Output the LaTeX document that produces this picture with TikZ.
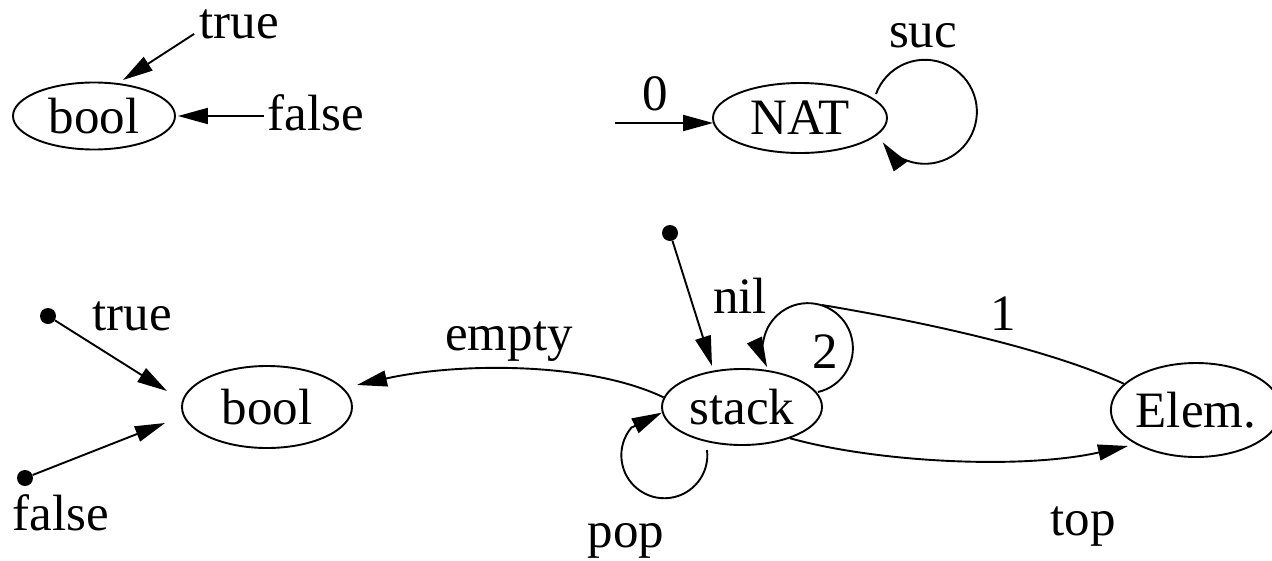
\documentclass[tikz,border=0pt]{standalone}
\usepackage{fontspec}
\setmainfont{Liberation Serif}
\usetikzlibrary{shapes.geometric,arrows.meta}
\begin{document}
\begin{tikzpicture}[x=1pt,y=1pt,
  every node/.style={font=\fontsize{51}{60}\selectfont},
  sort/.style={draw, ellipse, line width=1.9pt, inner sep=0pt},
  lbl/.style={inner sep=0pt, anchor=base},
  dot/.style={circle, fill=black, inner sep=0pt, minimum size=16pt},
  conn/.style={line width=1.9pt},
  arr/.style={line width=1.9pt, -{Triangle[length=30pt,width=16pt]}}]
\useasboundingbox (0,0) rectangle (1272,-560);
% top left
\node[sort, minimum width=162pt, minimum height=67pt] (boolA) at (94,-116) {bool};
\node[lbl] (trueA) at (239,-38) {true};
\node[lbl] (falseA) at (316,-130) {false};
\draw[arr] ([shift={(-5,-10)}]trueA.west) -- ([shift={(29,36)}]boolA.center);
\draw[arr] ([xshift=-4pt]falseA.west |- boolA.east) -- ([xshift=2pt]boolA.east);
% top right
\node[sort, minimum width=174pt, minimum height=70pt] (nat) at (800,-118) {NAT};
\node[lbl] (zero) at (655,-110) {0};
\node[lbl] (suc) at (923,-47) {suc};
\coordinate (zsrc) at (615,-123);
\draw[arr] (zsrc) -- ([xshift=1pt]zsrc -| nat.west);
\draw[arr] ([shift={(76,24)}]nat.center) arc[start angle=160, end angle=-144, radius=52];
% bottom
\node[dot] (tdot) at (48,-316) {};
\node[lbl] (trueB) at (132,-330) {true};
\node[dot] (fdot) at (25,-478) {};
\node[lbl] (falseB) at (61,-530) {false};
\node[sort, minimum width=170pt, minimum height=82pt] (boolB) at (267,-407) {bool};
\node[sort, minimum width=160pt, minimum height=76pt] (stack) at (742,-407) {stack};
\node[sort, minimum width=168pt, minimum height=94pt] (elem) at (1196,-410) {Elem.};
\node[dot] (ndot) at (670,-233) {};
\node[lbl] (empty) at (509,-350) {empty};
\node[lbl] (nil) at (740,-313) {nil};
\node[lbl] (two) at (825,-368) {2};
\node[lbl] (one) at (1003,-330) {1};
\node[lbl] (pop) at (626,-547) {pop};
\node[lbl] (top) at (1083,-535) {top};
\draw[arr] (tdot) -- ([shift={(-100,16)}]boolB.center);
\draw[arr] (fdot) -- ([shift={(-102,-16)}]boolB.center);
\draw[arr] (ndot) -- ([shift={(-30,41)}]stack.center);
\draw[arr] (stack.173) .. controls (590,-362) and (460,-362) .. ([shift={(90,22)}]boolB.center);
\draw[arr] ([shift={(76,15)}]stack.center) arc[start angle=-77, end angle=205, radius=45];
\draw[conn] ([shift={(80,102)}]stack.center) .. controls (900,-318) and (1040,-345) .. (elem.160);
\draw[arr] (stack.-33) .. controls (875,-462) and (1020,-470) .. ([shift={(-68,-36)}]elem.center);
\draw[arr] ([shift={(-35,-43)}]stack.center) arc[start angle=7, end angle=-220, radius=43] -- (stack.184);
\end{tikzpicture}
\end{document}
